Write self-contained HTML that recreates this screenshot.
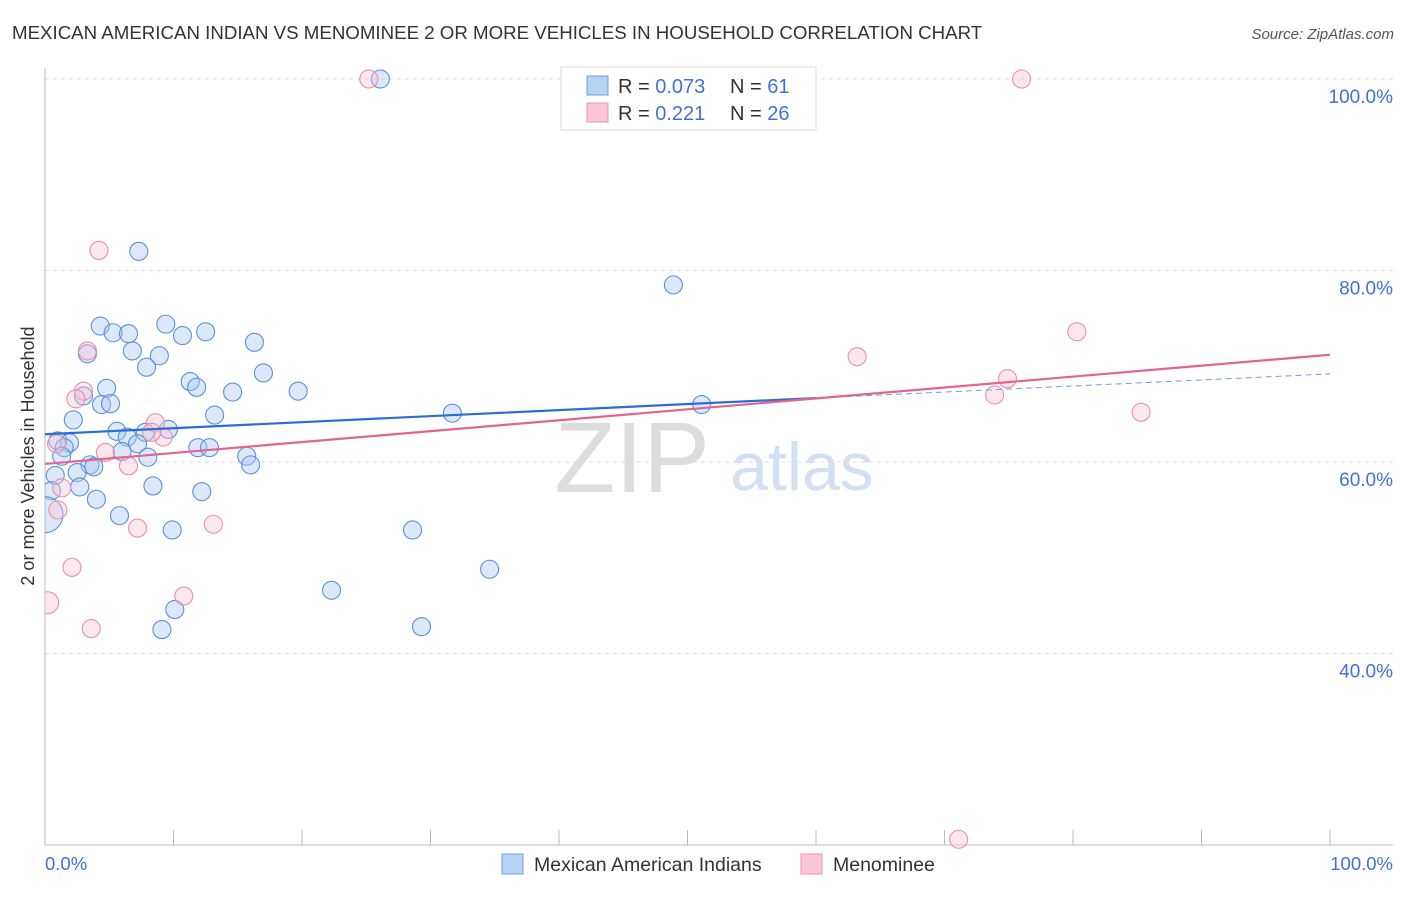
<!DOCTYPE html>
<html><head><meta charset="utf-8">
<style>
body{margin:0;background:#fff;font-family:"Liberation Sans",sans-serif;}
svg text{font-family:"Liberation Sans",sans-serif;}
</style></head>
<body>
<svg id="chart" width="1406" height="892">
<text x="12" y="39" font-size="18.7" fill="#333">MEXICAN AMERICAN INDIAN VS MENOMINEE 2 OR MORE VEHICLES IN HOUSEHOLD CORRELATION CHART</text>
<text x="1394" y="39" font-size="15" fill="#555" font-style="italic" text-anchor="end">Source: ZipAtlas.com</text>
<text x="0" y="0" font-size="18" fill="#333" text-anchor="middle" transform="translate(34,456) rotate(-90)">2 or more Vehicles in Household</text>
<text x="632" y="492" font-size="100" fill="#ddd" font-family="Liberation Serif" text-anchor="middle">ZIP</text>
<text x="802" y="490" font-size="68" fill="#d3e0f3" text-anchor="middle">atlas</text>
<g id="grid"></g>
<g id="pts"></g>
<g id="lines"></g>
<g id="legend">
<rect x="561" y="67" width="255" height="63" fill="#fff" stroke="#ddd"/>
<rect x="587" y="76" width="21" height="19" fill="#b8d2f5" stroke="#6f9fe0"/>
<rect x="587" y="103" width="21" height="19" fill="#fcc8d8" stroke="#ec95b0"/>
<text x="618" y="93" font-size="20" fill="#333">R = <tspan fill="#3d73d6">0.073</tspan></text>
<text x="730" y="93" font-size="20" fill="#333">N = <tspan fill="#3d73d6"> 61</tspan></text>
<text x="618" y="120" font-size="20" fill="#333">R = <tspan fill="#3d73d6"> 0.221</tspan></text>
<text x="730" y="120" font-size="20" fill="#333">N = <tspan fill="#3d73d6">26</tspan></text>
</g>
<g>
<rect x="502" y="854" width="21" height="20" fill="#b8d2f5" stroke="#6f9fe0"/>
<text x="534" y="871" font-size="19.5" fill="#333">Mexican American Indians</text>
<rect x="801" y="854" width="21" height="20" fill="#fcc8d8" stroke="#ec95b0"/>
<text x="833" y="871" font-size="19.5" fill="#333">Menominee</text>
</g>
<text x="45" y="870" font-size="18.5" fill="#3d73d6">0.0%</text>
<text x="1393" y="870" font-size="18.5" fill="#3d73d6" text-anchor="end">100.0%</text>
</svg>
<script>
const yTicks=[100,80,60,40];
const blueX=[26.1,7.3,48.9,4.3,9.4,5.3,6.5,10.7,12.5,16.3,3.3,6.8,8.9,7.9,17.0,11.3,11.8,4.8,14.6,19.7,3.0,4.4,5.1,13.2,2.2,31.7,51.1,5.6,9.6,7.8,6.4,1.0,1.9,1.5,7.2,11.9,12.8,6.0,1.3,8.0,15.7,16.0,3.5,3.8,2.5,8.4,0.8,2.7,12.2,4.0,0.5,5.8,9.9,28.6,34.6,22.3,10.1,29.3,9.1,0];
const blueY=[100,82.0,78.5,74.2,74.4,73.5,73.4,73.2,73.6,72.5,71.3,71.6,71.1,69.9,69.3,68.4,67.8,67.7,67.3,67.4,66.9,66.0,66.1,64.9,64.4,65.1,66.0,63.2,63.4,63.1,62.6,62.2,62.0,61.5,61.9,61.5,61.5,61.1,60.6,60.5,60.6,59.7,59.7,59.5,58.9,57.5,58.6,57.4,56.9,56.1,57.0,54.4,52.9,52.9,48.8,46.6,44.6,42.8,42.5,54.5];
const pinkX=[25.2,76.0,4.2,3.3,3.0,2.4,8.6,9.2,8.3,4.7,0.9,6.5,1.3,1.0,7.2,13.1,2.1,63.2,80.3,74.9,73.9,85.3,10.8,3.6,0.2,71.1];
const pinkY=[100,100,82.1,71.6,67.4,66.6,64.1,62.6,63.1,61.0,61.9,59.6,57.3,55.0,53.1,53.5,49.0,71.0,73.6,68.7,67.0,65.2,46.0,42.6,45.3,20.6];
const blueTrend=[62.9,69.2];
const pinkTrend=[59.8,71.2];
const NS="http://www.w3.org/2000/svg";
const X=v=>45+v*12.85;
const Y=v=>79+(100-v)*9.575;
const svg=document.getElementById('chart');
function mk(tag,attrs,parent){const e=document.createElementNS(NS,tag);for(const k in attrs)e.setAttribute(k,attrs[k]);parent.appendChild(e);return e;}
const defs=mk('defs',{},svg);
const cp=mk('clipPath',{id:'clip'},defs);
mk('rect',{x:45,y:60,width:1360,height:790},cp);
const grid=document.getElementById('grid');
yTicks.forEach(t=>{
 const l=mk('line',{x1:45,x2:1393,y1:Y(t),y2:Y(t),stroke:'#ddd','stroke-dasharray':'4,4'},grid);
 
 
 const tx=mk('text',{x:1393,y:Y(t)+24,'font-size':19,fill:'#3d73d6','text-anchor':'end'},grid);
 tx.textContent=t.toFixed(1)+'%';
 
 
});
const ax=mk('line',{x1:45,x2:45,y1:68,y2:845,stroke:'#bbb'},grid);


const bx=mk('line',{x1:45,x2:1393,y1:845,y2:845,stroke:'#bbb'},grid);


for(let i=0;i<=10;i++){
 const t=mk('line',{x1:X(i*10),x2:X(i*10),y1:830,y2:845,stroke:'#bbb'},grid);
 
 
}
const pts=document.getElementById('pts');
pts.setAttribute('clip-path','url(#clip)');
blueX.forEach((x,i)=>{
 const big=(i===blueX.length-1);
 const c=mk('circle',{cx:X(x),cy:Y(blueY[i]),r:big?18:9,fill:'rgba(170,200,242,0.4)',stroke:'#5a8fdd','stroke-width':1.1},pts);
 
 
});
pinkX.forEach((x,i)=>{
 const big=(i===pinkX.length-2);
 const c=mk('circle',{cx:X(x),cy:Y(pinkY[i]),r:big?11:9,fill:'rgba(250,195,212,0.4)',stroke:'#e88fac','stroke-width':1.1},pts);
 
 
});
const lines=document.getElementById('lines');
const by=x=>blueTrend[0]+(blueTrend[1]-blueTrend[0])*x/100;
const b1=mk('line',{x1:X(0),y1:Y(by(0)),x2:X(60),y2:Y(by(60)),stroke:'#2a6dd6','stroke-width':2.2},lines);


const b2=mk('line',{x1:X(60),y1:Y(by(60)),x2:X(100),y2:Y(by(100)),stroke:'#6f9fe0','stroke-width':1,'stroke-dasharray':'6,4'},lines);


const p1=mk('line',{x1:X(0),y1:Y(pinkTrend[0]),x2:X(100),y2:Y(pinkTrend[1]),stroke:'#e5638f','stroke-width':2.2},lines);


</script>
</body></html>
